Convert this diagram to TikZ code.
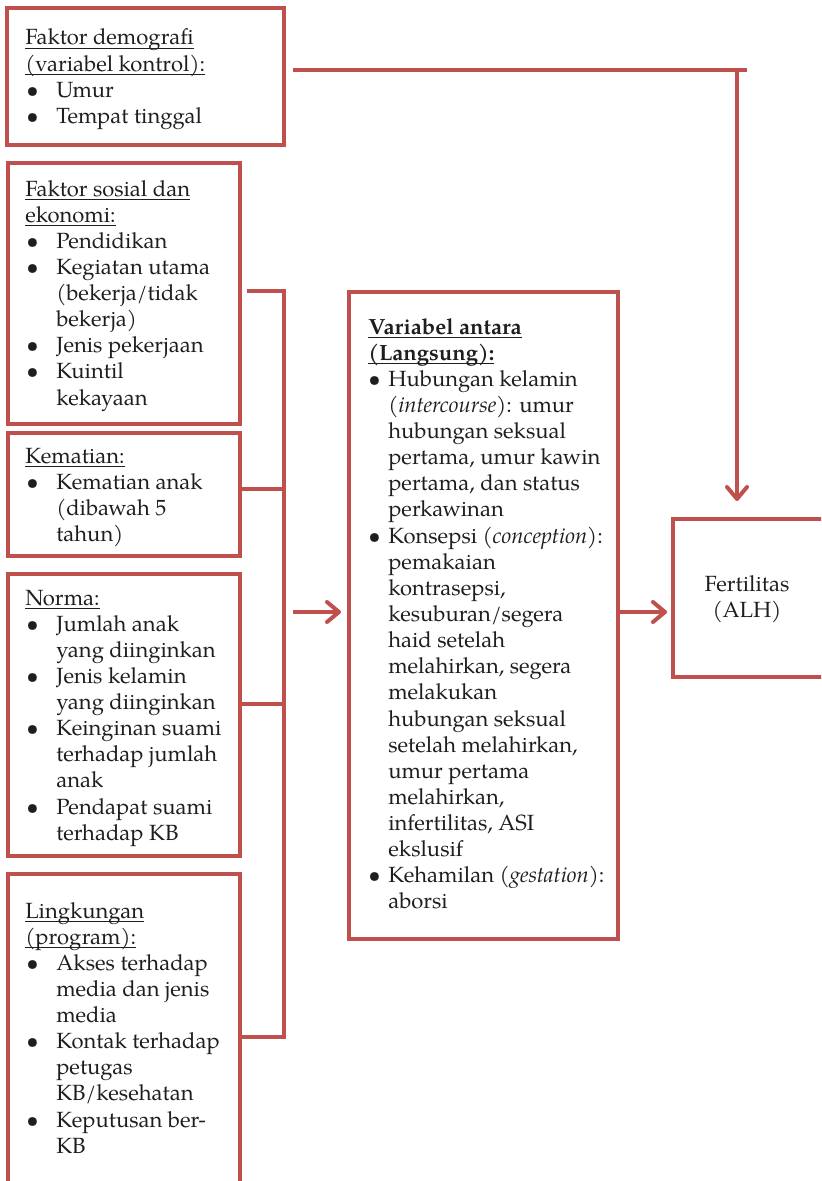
\documentclass[tikz,border=0pt]{standalone}
\usepackage{fontspec}
\setmainfont{TeX Gyre Pagella}
\usetikzlibrary{arrows.meta,calc,fit}

\definecolor{frame}{HTML}{C0504D}
\definecolor{ink}{HTML}{1E1E1E}

% underlined heading line with a fixed rule depth
\newcommand\ul[1]{\setbox0=\hbox{#1}\rlap{\rule[-3pt]{\wd0}{0.8pt}}\box0}
% bullet rows and their continuation rows (side boxes)
\newcommand\bi{\hspace*{0.75pt}\makebox[22.5pt][l]{\textbullet}}
\newcommand\ci{\hspace*{23.25pt}}
% bullet rows and continuation rows (centre box)
\newcommand\mb{\makebox[15pt][l]{\textbullet}}
\newcommand\mc{\hspace*{15pt}}
% a block of left-aligned lines whose baseline is the first line
\newenvironment{rows}{\begin{tabular}[t]{@{}l@{}}}{\end{tabular}}

\begin{document}
\begin{tikzpicture}[x=0.75pt,y=-0.75pt,
  box/.style={draw=frame,line width=3pt,inner sep=0pt,fill=none},
  txt/.style={anchor=base west,inner sep=0pt,text=ink,
    font=\fontsize{16.5}{19.6}\selectfont},
  link/.style={draw=frame,line width=3pt},
  arr/.style={link,-{Straight Barb[length=9pt,width=15pt,round]}}]

\useasboundingbox (0,0) rectangle (821,1181);
\clip (0,0) rectangle (821,1181);

% ---- boxes ----
\node[box,fit={(7,8) (284,145)}]    (demo) {};
\node[box,fit={(8,163) (240,424)}]  (sosek) {};
\node[box,fit={(8,433) (240,556)}]  (mort) {};
\node[box,fit={(8,574) (240,856)}]  (norm) {};
\node[box,fit={(8,874) (240,1210)}] (env) {};
\node[box,fit={(349,292) (618,939)}] (mid) {};
\node[box,fit={(673,519) (828,677)}] (fert) {};

% ---- texts ----
\node[txt] (tdemo) at (25,45) {\begin{rows}
\ul{Faktor demografi}\\
\ul{(variabel kontrol):}\\
\bi Umur\\
\bi Tempat tinggal
\end{rows}};

\node[txt] (tsosek) at (25,196) {\begin{rows}
\ul{Faktor sosial dan}\\
\ul{ekonomi:}\\
\bi Pendidikan\\
\bi Kegiatan utama\\
\ci (bekerja/tidak\\
\ci bekerja)\\
\bi Jenis pekerjaan\\
\bi Kuintil\\
\ci kekayaan
\end{rows}};

\node[txt] (tmort) at (25,463) {\begin{rows}
\ul{Kematian:}\\
\bi Kematian anak\\
\ci (dibawah 5\\
\ci tahun)
\end{rows}};

\node[txt] (tnorm) at (25,605) {\begin{rows}
\ul{Norma:}\\
\bi Jumlah anak\\
\ci yang diinginkan\\
\bi Jenis kelamin\\
\ci yang diinginkan\\
\bi Keinginan suami\\
\ci terhadap jumlah\\
\ci anak\\
\bi Pendapat suami\\
\ci terhadap KB
\end{rows}};

\node[txt] (tenv) at (25,918) {\begin{rows}
\ul{Lingkungan}\\
\ul{(program):}\\
\bi Akses terhadap\\
\ci media dan jenis\\
\ci media\\
\bi Kontak terhadap\\
\ci petugas\\
\ci KB/kesehatan\\
\bi Keputusan ber-\\
\ci KB
\end{rows}};

\node[txt] (tmid) at (368,334) {\begin{rows}
\ul{\textbf{Variabel antara}}\\
\ul{\textbf{(Langsung):}}\\
\mb Hubungan kelamin\\
\mc (\textit{intercourse}): umur\\
\mc hubungan seksual\\
\mc pertama, umur kawin\\
\mc pertama, dan status\\
\mc perkawinan\\
\mb Konsepsi (\textit{conception}):\\
\mc pemakaian\\
\mc kontrasepsi,\\
\mc kesuburan/segera\\
\mc haid setelah\\
\mc melahirkan, segera\\
\mc melakukan\\
\mc hubungan seksual\\
\mc setelah melahirkan,\\
\mc umur pertama\\
\mc melahirkan,\\
\mc infertilitas, ASI\\
\mc ekslusif\\
\mb Kehamilan (\textit{gestation}):\\
\mc aborsi
\end{rows}};

\node[inner sep=0pt,text=ink,align=center,
  font=\fontsize{16.5}{19.6}\selectfont] (tfert) at (747,599) {Fertilitas\\(ALH)};

% ---- connectors ----
% control variables line running over to the outcome
\coordinate (topL) at (293,70);
\coordinate (topR) at (747,70);
\coordinate (drop) at (737,70);
\draw[link] (topL) -- (topR);
\draw[arr] (drop) -- ($(fert.north -| drop)+(0,-16)$);

% bracket gathering the indirect factors
\coordinate (brTop) at (247,291);
\coordinate (jTop) at (284,291);
\coordinate (jMort) at (284,489);
\coordinate (jNorm) at (284,704);
\coordinate (jBot) at (284,1037);
\draw[link] (brTop) -- (jTop) -- (jBot) -- (jBot -| env.east);
\draw[link] (jMort) -- (jMort -| mort.east);
\draw[link] (jNorm) -- (jNorm -| norm.east);

% flow into and out of the proximate variables
\coordinate (inL) at (293,612);
\draw[arr] (inL) -- ($(mid.west |- inL)+(-6,0)$);
\draw[arr] ($(mid.east |- inL)+(-3,0)$) -- ($(fert.west |- inL)+(-4,0)$);
\end{tikzpicture}
\end{document}
